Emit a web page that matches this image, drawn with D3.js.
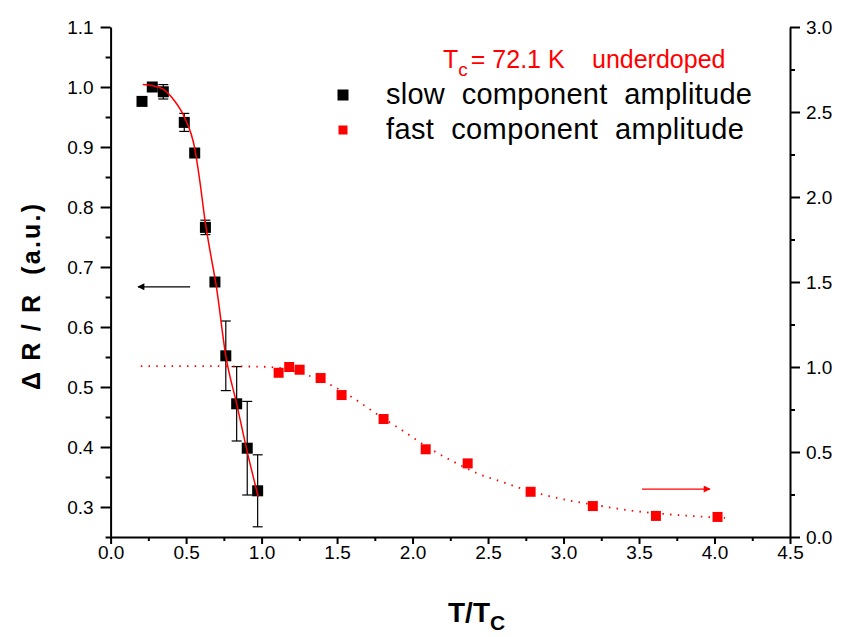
<!DOCTYPE html>
<html>
<head>
<meta charset="utf-8">
<script src="https://cdn.jsdelivr.net/npm/d3@7"></script>
<style>
  body { margin: 0; background: #fff; }
  svg { font-family: "Liberation Sans", Arial, sans-serif; }
  .axis path, .axis line { stroke: #000; stroke-width: 2px; }
  .axis text { font-size: 19px; fill: #000; font-family: "Liberation Sans", Arial, sans-serif; }
</style>
</head>
<body>
<div id="chart"></div>
<script>
// slow component (left axis)
var slowT   = [0.208, 0.276, 0.349, 0.488, 0.557, 0.628, 0.691, 0.763, 0.835, 0.905, 0.974];
var slowAmp = [0.976, 1.000, 0.992, 0.941, 0.890, 0.766, 0.675, 0.552, 0.472, 0.398, 0.327];
var slowErr = [0.000, 0.004, 0.012, 0.015, 0.004, 0.012, 0.006, 0.058, 0.062, 0.078, 0.060];

// red solid fit through the slow component
var slowFitT   = [0.213, 0.28, 0.35, 0.42, 0.488, 0.557, 0.59, 0.628, 0.66, 0.70, 0.763, 0.835, 0.905, 0.978];
var slowFitAmp = [1.004, 1.002, 0.996, 0.978, 0.950, 0.898, 0.845, 0.773, 0.725, 0.668, 0.552, 0.472, 0.392, 0.317];

// fast component (right axis)
var fastT   = [1.113, 1.183, 1.252, 1.391, 1.530, 1.808, 2.087, 2.365, 2.782, 3.194, 3.612, 4.020];
var fastAmp = [0.966, 1.000, 0.984, 0.935, 0.835, 0.694, 0.516, 0.433, 0.266, 0.182, 0.124, 0.118];

// red dotted fit through the fast component
var fastFitT   = [0.2, 0.6, 0.99, 1.15, 1.30, 1.45, 1.61, 1.76, 1.92, 2.13, 2.28, 2.43, 2.59, 2.69, 2.95, 3.2, 3.45, 3.7, 3.95, 4.07];
var fastFitAmp = [1.005, 1.005, 1.002, 0.99, 0.953, 0.898, 0.816, 0.725, 0.634, 0.512, 0.439, 0.374, 0.325, 0.294, 0.231, 0.19, 0.155, 0.133, 0.118, 0.112];

// tick values
var xMajor = [0, 0.5, 1, 1.5, 2, 2.5, 3, 3.5, 4, 4.5];
var xMinor = [0.25, 0.75, 1.25, 1.75, 2.25, 2.75, 3.25, 3.75, 4.25];
var yLMajor = [0.3, 0.4, 0.5, 0.6, 0.7, 0.8, 0.9, 1.0, 1.1];
var yLMinor = [0.25, 0.35, 0.45, 0.55, 0.65, 0.75, 0.85, 0.95, 1.05];
var yRMajor = [0, 0.5, 1, 1.5, 2, 2.5, 3];
var yRMinor = [0.25, 0.75, 1.25, 1.75, 2.25, 2.75];

// legend entries and direction arrows
var legendLabels = ["slow  component  amplitude", "fast  component  amplitude"];
var legendColors = ["#000", "#ff0000"];
var arrowLeft  = {x1: 0.527, x2: 0.182, y: 0.667};   // on the left scale
var arrowRight = {x1: 3.52, x2: 3.97, y: 0.282};     // on the right scale

var W = 842, H = 637;
var margin = {top: 27, right: 52, bottom: 100, left: 110.6};
var width = W - margin.left - margin.right;
var height = H - margin.top - margin.bottom;

var x  = d3.scaleLinear().domain([0, 4.5]).range([0, width]);
var yL = d3.scaleLinear().domain([0.25, 1.1]).range([height, 0]);
var yR = d3.scaleLinear().domain([0, 3]).range([height, 0]);

var svg = d3.select("#chart").append("svg")
  .attr("width", W).attr("height", H);

var defs = svg.append("defs");
[["headBlack", "#000"], ["headRed", "#ff0000"]].forEach(function(m) {
  defs.append("marker")
    .attr("id", m[0])
    .attr("viewBox", "0 0 10 10")
    .attr("refX", 9).attr("refY", 5)
    .attr("markerWidth", 10).attr("markerHeight", 7)
    .attr("markerUnits", "userSpaceOnUse")
    .attr("orient", "auto")
    .append("path").attr("d", "M0,0L10,5L0,10z").attr("fill", m[1]);
});

var g = svg.append("g")
  .attr("transform", "translate(" + margin.left + "," + margin.top + ")");

var f1 = d3.format(".1f");

// axes: majors + minors
function addAxis(axisFn, scale, major, minor, transform, majLen, minLen, pad) {
  var a = g.append("g").attr("class", "axis").attr("transform", transform);
  a.call(axisFn(scale).tickValues(major).tickSize(majLen).tickSizeOuter(0).tickPadding(pad).tickFormat(f1));
  var b = g.append("g").attr("class", "axis").attr("transform", transform);
  b.call(axisFn(scale).tickValues(minor).tickSize(minLen).tickSizeOuter(0).tickFormat(""));
  b.select(".domain").remove();
  return a;
}
addAxis(d3.axisBottom, x, xMajor, xMinor, "translate(0," + height + ")", 7, 4, 2);
addAxis(d3.axisLeft, yL, yLMajor, yLMinor, "translate(0,0)", 10, 5, 7);
addAxis(d3.axisRight, yR, yRMajor, yRMinor, "translate(" + width + ",0)", 10, 5, 6);

// error bars for the slow component
var slow = slowT.map(function(t, i) { return {t: t, v: slowAmp[i], e: slowErr[i]}; });
var eb = g.append("g").attr("class", "errorbars")
  .selectAll("g").data(slow.filter(function(d) { return d.e > 0; }))
  .enter().append("g").attr("stroke", "#000").attr("stroke-width", 1.2);
eb.append("line")
  .attr("x1", function(d) { return x(d.t); }).attr("x2", function(d) { return x(d.t); })
  .attr("y1", function(d) { return yL(d.v + d.e); }).attr("y2", function(d) { return yL(d.v - d.e); });
eb.selectAll(".cap").data(function(d) { return [[d.t, d.v + d.e], [d.t, d.v - d.e]]; })
  .enter().append("line").attr("class", "cap")
  .attr("x1", function(d) { return x(d[0]) - 5; }).attr("x2", function(d) { return x(d[0]) + 5; })
  .attr("y1", function(d) { return yL(d[1]); }).attr("y2", function(d) { return yL(d[1]); });

// black squares
var sq = 11;
g.append("g").selectAll("rect").data(slow).enter().append("rect")
  .attr("x", function(d) { return x(d.t) - sq / 2; })
  .attr("y", function(d) { return yL(d.v) - sq / 2; })
  .attr("width", sq).attr("height", sq).attr("fill", "#000");

// solid red fit
var lineL = d3.line().curve(d3.curveMonotoneX)
  .x(function(d) { return x(d[0]); }).y(function(d) { return yL(d[1]); });
g.append("path")
  .datum(slowFitT.map(function(t, i) { return [t, slowFitAmp[i]]; }))
  .attr("d", lineL).attr("fill", "none").attr("stroke", "#ff0000").attr("stroke-width", 1.5);

// dotted red fit
var lineR = d3.line().curve(d3.curveMonotoneX)
  .x(function(d) { return x(d[0]); }).y(function(d) { return yR(d[1]); });
g.append("path")
  .datum(fastFitT.map(function(t, i) { return [t, fastFitAmp[i]]; }))
  .attr("d", lineR).attr("fill", "none").attr("stroke", "#ff0000")
  .attr("stroke-width", 1.8).attr("stroke-dasharray", "1.5,6.2");

// red squares
var sqR = 10;
g.append("g").selectAll("rect").data(fastT.map(function(t, i) { return [t, fastAmp[i]]; }))
  .enter().append("rect")
  .attr("x", function(d) { return x(d[0]) - sqR / 2; })
  .attr("y", function(d) { return yR(d[1]) - sqR / 2; })
  .attr("width", sqR).attr("height", sqR).attr("fill", "#ff0000");

// arrows
g.append("line")
  .attr("x1", x(arrowLeft.x1)).attr("x2", x(arrowLeft.x2))
  .attr("y1", yL(arrowLeft.y)).attr("y2", yL(arrowLeft.y))
  .attr("stroke", "#000").attr("stroke-width", 1.3).attr("marker-end", "url(#headBlack)");
g.append("line")
  .attr("x1", x(arrowRight.x1)).attr("x2", x(arrowRight.x2))
  .attr("y1", yR(arrowRight.y)).attr("y2", yR(arrowRight.y))
  .attr("stroke", "#ff0000").attr("stroke-width", 1.3).attr("marker-end", "url(#headRed)");

// legend
var leg = svg.append("g").attr("class", "legend");
var legItem = leg.selectAll("g").data(legendLabels).enter().append("g")
  .attr("transform", function(d, i) { return "translate(343," + (95 + i * 35) + ")"; });
legItem.append("rect")
  .attr("x", function(d, i) { return i ? -4.5 : -5.5; })
  .attr("y", function(d, i) { return i ? -4.5 : -5.5; })
  .attr("width", function(d, i) { return i ? 9 : 11; })
  .attr("height", function(d, i) { return i ? 9 : 11; })
  .attr("fill", function(d, i) { return legendColors[i]; });
legItem.append("text")
  .attr("x", 43).attr("y", 9)
  .attr("font-size", 29)
  .style("white-space", "pre")
  .attr("textLength", function(d, i) { return i ? 358 : 366; })
  .attr("lengthAdjust", "spacing")
  .text(function(d) { return d; });

// Tc annotation
var ann = svg.append("text").attr("x", 443).attr("y", 68)
  .attr("fill", "#ff0000").attr("font-size", 25);
ann.append("tspan").text("T");
ann.append("tspan").attr("font-size", 19).attr("dy", 8).text("c");
ann.append("tspan").attr("dy", -8).attr("dx", 3).text("= 72.1 K");
ann.append("tspan").attr("x", 592).text("underdoped");

// axis titles
svg.append("text")
  .attr("transform", "translate(40,297) rotate(-90)")
  .attr("text-anchor", "middle")
  .attr("font-size", 25).attr("font-weight", "bold")
  .style("white-space", "pre")
  .attr("textLength", 186).attr("lengthAdjust", "spacing")
  .text("\u0394 R / R  (a.u.)");

var xt = svg.append("text").attr("x", 448).attr("y", 622)
  .attr("font-size", 28).attr("font-weight", "bold");
xt.append("tspan").text("T/T");
xt.append("tspan").attr("font-size", 21).attr("dy", 8).text("C");
</script>
</body>
</html>
